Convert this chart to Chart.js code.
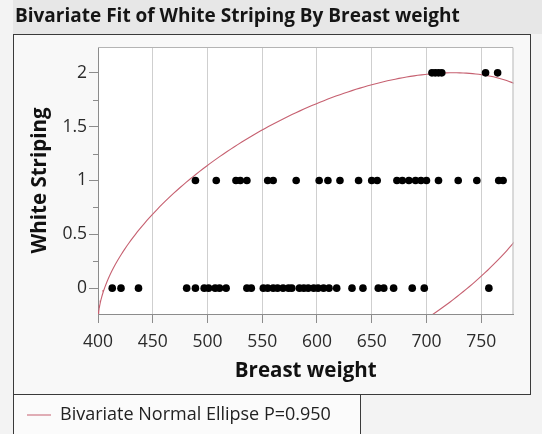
<!DOCTYPE html>
<html>
<head>
<meta charset="utf-8">
<script src="https://cdn.jsdelivr.net/npm/chart.js@4.4.0/dist/chart.umd.min.js"></script>
<style>
  html, body { margin: 0; padding: 0; background: #f3f3f3; overflow: hidden; }
  #wrap { width: 542px; height: 434px; }
</style>
</head>
<body>
<div id="wrap"><canvas id="fitChart" width="542" height="434"></canvas></div>
<script>
const titleText = 'Bivariate Fit of White Striping By Breast weight';
const xTitle = 'Breast weight';
const yTitle = 'White Striping';
const legendText = 'Bivariate Normal Ellipse P=0.950';

// breast weight of each bird, grouped by its white striping score
const score0Weights = [413, 421, 437, 481, 489, 497, 501, 507, 511, 517, 536, 540, 551, 555, 560,
  564, 569, 574, 577, 584, 588, 592, 597, 601, 606, 611, 618, 632, 642, 656, 661, 670, 687, 698, 757];
const score1Weights = [489, 508, 526, 530, 536, 555, 560, 581, 602, 610, 621, 638, 650, 655, 673,
  678, 684, 690, 695, 700, 711, 729, 746, 766, 770];
const score2Weights = [705, 708, 711, 714, 754, 765];

const xTicks = [400, 450, 500, 550, 600, 650, 700, 750];
const yTicks = [0, 0.5, 1, 1.5, 2];
const yMinorTicks = [0.25, 0.75, 1.25, 1.75];

// density ellipse
const ellipseCenter = [610, 0.5];
const ellipseSd = [85.8, 0.613];
const ellipseCorr = 0.547;
const ellipseP = 0.95;

const points = [];
score0Weights.forEach(w => points.push({x: w, y: 0}));
score1Weights.forEach(w => points.push({x: w, y: 1}));
score2Weights.forEach(w => points.push({x: w, y: 2}));

function ellipsePoints() {
  const k = Math.sqrt(-2 * Math.log(1 - ellipseP));
  const s = Math.sqrt(1 - ellipseCorr * ellipseCorr);
  const out = [];
  for (let i = 0; i <= 360; i++) {
    const t = i * Math.PI / 180;
    out.push({
      x: ellipseCenter[0] + ellipseSd[0] * k * Math.cos(t),
      y: ellipseCenter[1] + ellipseSd[1] * k * (ellipseCorr * Math.cos(t) + s * Math.sin(t))
    });
  }
  return out;
}

const lineColor = 'rgb(198, 96, 112)';
const font = '"Open Sans", "Noto Sans", sans-serif';
Chart.defaults.font.family = font;

const framePlugin = {
  id: 'frame',
  beforeDraw(chart) {
    const {ctx, chartArea: a, legend} = chart;
    const lt = Math.round(legend.top) + 0.5;
    ctx.save();
    ctx.fillStyle = '#e7e7e7';
    ctx.fillRect(13, 0, 529, 34);
    ctx.fillStyle = '#f8f8f8';
    ctx.fillRect(13, 34, 518, lt - 34);
    ctx.fillStyle = '#ffffff';
    ctx.fillRect(a.left, a.top, a.right - a.left, a.bottom - a.top);
    ctx.fillStyle = '#fbfbfb';
    ctx.fillRect(13, lt, 347, 434 - lt);
    ctx.strokeStyle = '#3a3a3a';
    ctx.lineWidth = 1;
    ctx.strokeRect(13.5, 34.5, 517, lt - 34.5);
    ctx.strokeRect(13.5, lt, 347, 60);
    ctx.restore();
  },
  afterDraw(chart) {
    const {ctx, chartArea: a, scales} = chart;
    ctx.save();
    ctx.strokeStyle = '#b4b4b4';
    ctx.lineWidth = 1;
    ctx.beginPath();
    ctx.moveTo(a.left, a.top + 0.5);
    ctx.lineTo(a.right - 0.5, a.top + 0.5);
    ctx.lineTo(a.right - 0.5, a.bottom);
    ctx.stroke();
    ctx.strokeStyle = '#8c8c8c';
    ctx.beginPath();
    yMinorTicks.forEach(v => {
      const py = Math.round(scales.y.getPixelForValue(v)) + 0.5;
      ctx.moveTo(a.left - 5, py);
      ctx.lineTo(a.left, py);
    });
    ctx.stroke();
    ctx.restore();
  }
};

new Chart(document.getElementById('fitChart'), {
  type: 'scatter',
  data: {
    datasets: [{
      label: 'White Striping',
      data: points,
      backgroundColor: '#000',
      borderWidth: 0,
      pointRadius: 3.8,
      pointHoverRadius: 3.8
    }, {
      label: legendText,
      data: ellipsePoints(),
      showLine: true,
      borderColor: lineColor,
      borderWidth: 1.1,
      pointRadius: 0,
      pointHoverRadius: 0,
      tension: 0
    }]
  },
  options: {
    responsive: false,
    animation: false,
    events: [],
    layout: { padding: { left: 15, right: 28.5, top: 0, bottom: 0 } },
    plugins: {
      title: {
        display: true,
        text: titleText,
        align: 'start',
        color: '#151515',
        font: { size: 19, weight: 'bold' },
        padding: { top: 5.6, bottom: 18.6 }
      },
      legend: {
        position: 'bottom',
        align: 'start',
        labels: {
          filter: item => item.datasetIndex === 1,
          usePointStyle: true,
          pointStyle: 'line',
          pointStyleWidth: 24,
          padding: 12,
          color: '#222',
          font: { size: 18 }
        }
      },
      tooltip: { enabled: false }
    },
    scales: {
      x: {
        type: 'linear',
        min: 400,
        max: 779.5,
        afterBuildTicks: s => { s.ticks = xTicks.map(v => ({value: v})); },
        afterFit: s => { s.height = 434 - 314 - s.chart.legend.height; },
        grid: { color: '#cfcfcf', tickColor: '#8c8c8c', tickLength: 9 },
        border: { color: '#8c8c8c' },
        ticks: { color: '#2b2b2b', font: { size: 17.5 }, padding: 8.5, maxRotation: 0, callback: v => String(v) },
        title: { display: true, text: xTitle, color: '#111', font: { size: 20.5, weight: 'bold' }, padding: { top: 0, bottom: 10.7 } }
      },
      y: {
        type: 'linear',
        min: -0.24,
        max: 2.24,
        afterBuildTicks: s => { s.ticks = yTicks.map(v => ({value: v})); },
        afterFit: s => { s.width = 83; },
        grid: { drawOnChartArea: false, tickColor: '#8c8c8c', tickLength: 9 },
        border: { color: '#8c8c8c' },
        ticks: { color: '#2b2b2b', font: { size: 17.5 }, padding: 2, callback: v => String(v) },
        title: { display: true, text: yTitle, color: '#111', font: { size: 20.5, weight: 'bold' }, padding: { top: 12.7, bottom: 0 } }
      }
    }
  },
  plugins: [framePlugin]
});
</script>
</body>
</html>
